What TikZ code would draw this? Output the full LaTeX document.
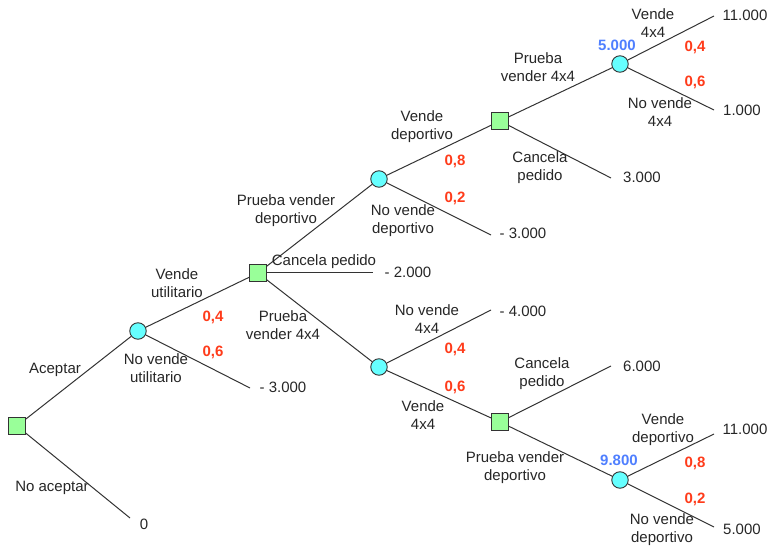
\documentclass[tikz,border=0pt]{standalone}
\usepackage{fontspec}
\setmainfont{Liberation Sans}
\usetikzlibrary{positioning}

\definecolor{decgreen}{HTML}{99FF99}
\definecolor{chancecyan}{HTML}{66FFFF}
\definecolor{probred}{HTML}{FF3B1A}
\definecolor{evblue}{HTML}{4F7FFF}
\definecolor{edgegray}{HTML}{333333}

\begin{document}
\begin{tikzpicture}[
  x=1pt,y=-1pt,
  font=\fontsize{15}{18}\selectfont,
  decnode/.style ={draw=edgegray,fill=decgreen,rectangle,minimum size=16.5pt,
                   inner sep=0pt,line width=0.9pt},
  chnode/.style  ={draw=edgegray,fill=chancecyan,circle,minimum size=16.5pt,
                   inner sep=0pt,line width=0.9pt},
  branch/.style  ={draw=edgegray,line width=1pt},
  lbl/.style     ={align=center,text=black!85,inner sep=0pt},
  payoff/.style  ={text=black!85,inner sep=0pt},
  prob/.style    ={font=\fontsize{15}{18}\selectfont\bfseries,text=probred,inner sep=0pt},
  ev/.style      ={font=\fontsize{15}{18}\selectfont\bfseries,text=evblue,inner sep=0pt},
]
\useasboundingbox (0,0) rectangle (769,548);

%% ===== Decision and chance nodes ============================================
\node[decnode] (d1) at (17,426)  {};
\node[chnode]  (c1) at (138,331) {};
\node[decnode] (d2) at (258,273) {};
\node[chnode]  (c3) at (379,179) {};
\node[decnode] (d4) at (500,121) {};
\node[chnode]  (c5) at (620,64)  {};
\node[chnode]  (c6) at (379,367) {};
\node[decnode] (d7) at (500,422) {};
\node[chnode]  (c8) at (620,480) {};

%% ===== Branch ends and payoffs ==============================================
\coordinate (e1)  at (714,16);
\coordinate (e2)  at (714,110);
\coordinate (e3)  at (611,178);
\coordinate (e4)  at (491,235);
\coordinate (e5)  at (373,273);
\coordinate (e6)  at (250,388);
\coordinate (e7)  at (130,518);
\coordinate (e8)  at (491,310);
\coordinate (e9)  at (611,366);
\coordinate (e10) at (714,434);
\coordinate (e11) at (714,527);

\node[payoff] (p1)  at (745,15)  {11.000};
\node[payoff] (p2)  at (742,110) {1.000};
\node[payoff] (p3)  at (642,177) {3.000};
\node[payoff] (p4)  at (523,233) {- 3.000};
\node[payoff] (p5)  at (408,272) {- 2.000};
\node[payoff] (p6)  at (283,387) {- 3.000};
\node[payoff] (p7)  at (144,524) {0};
\node[payoff] (p8)  at (523,311) {- 4.000};
\node[payoff] (p9)  at (642,366) {6.000};
\node[payoff] (p10) at (745,429) {11.000};
\node[payoff] (p11) at (742,529) {5.000};

%% ===== Branches =============================================================
\foreach \a/\b in {d1/c1, d1/e7, c1/d2, c1/e6, d2/c3, d2/e5, d2/c6,
                   c3/d4, c3/e4, d4/c5, d4/e3, c5/e1, c5/e2,
                   c6/e8, c6/d7, d7/e9, d7/c8, c8/e10, c8/e11} {
  \draw[branch] (\a) -- (\b);
}

%% ===== Branch labels ========================================================
\node[lbl] (aceptar)   at (55,370)  {Aceptar};
\node[lbl] (noaceptar) at (52,488)  {No aceptar};
\node[lbl] (vu)        at (177,283) {Vende\\utilitario};
\node[lbl] (nvu)       at (156,368) {No vende\\utilitario};
\node[lbl] (pvd)       at (286,211) {Prueba vender\\deportivo};
\node[lbl] (cp1)       at (324,262) {Cancela pedido};
\node[lbl] (pv4)       at (283,325) {Prueba\\vender 4x4};
\node[lbl] (vd)        at (422,127) {Vende\\deportivo};
\node[lbl] (nvd)       at (403,221) {No vende\\deportivo};
\node[lbl] (pv4b)      at (538,67)  {Prueba\\vender 4x4};
\node[lbl] (cp2)       at (540,168) {Cancela\\pedido};
\node[lbl] (v4)        at (653,23)  {Vende\\4x4};
\node[lbl] (nv4)       at (660,112) {No vende\\4x4};
\node[lbl] (nv4b)      at (427,319) {No vende\\4x4};
\node[lbl] (v4b)       at (423,415) {Vende\\4x4};
\node[lbl] (cp3)       at (542,374) {Cancela\\pedido};
\node[lbl] (pvdb)      at (515,468) {Prueba vender\\deportivo};
\node[lbl] (vdb)       at (663,430) {Vende\\deportivo};
\node[lbl] (nvdb)      at (662,530) {No vende\\deportivo};

%% ===== Probabilities ========================================================
\node[prob] (q1)  at (213,317) {0,4};
\node[prob] (q2)  at (213,352) {0,6};
\node[prob] (q3)  at (455,161) {0,8};
\node[prob] (q4)  at (455,198) {0,2};
\node[prob] (q5)  at (695,47)  {0,4};
\node[prob] (q6)  at (695,82)  {0,6};
\node[prob] (q7)  at (455,349) {0,4};
\node[prob] (q8)  at (455,387) {0,6};
\node[prob] (q9)  at (695,463) {0,8};
\node[prob] (q10) at (695,499) {0,2};

%% ===== Expected values ======================================================
\node[ev] (ev1) at (617,45)  {5.000};
\node[ev] (ev2) at (619,460) {9.800};

\end{tikzpicture}
\end{document}
